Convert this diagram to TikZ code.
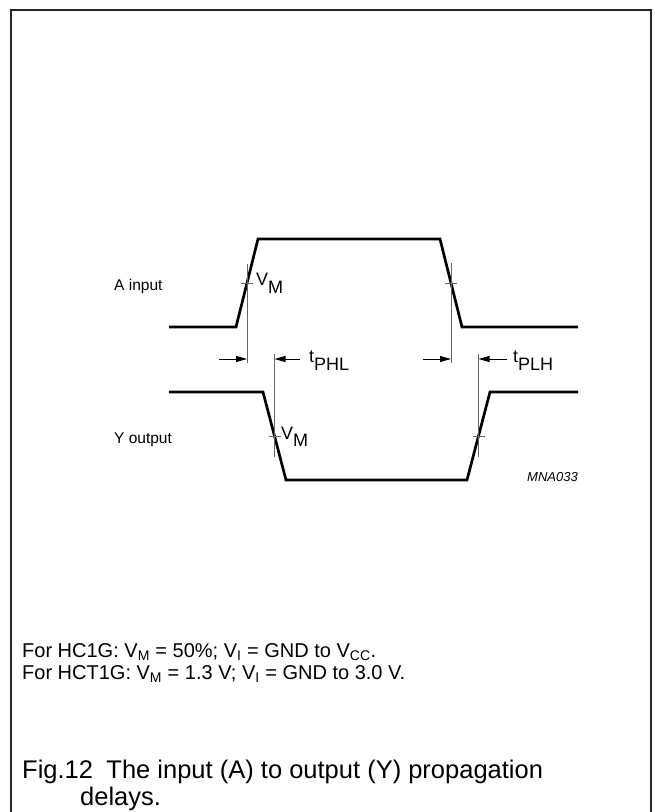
\documentclass[tikz,border=0pt]{standalone}
\usepackage{fontspec}
\setmainfont{Liberation Sans}
\usetikzlibrary{arrows.meta}

% lowered subscript of almost full size, as in the waveform labels
\newcommand{\lowsub}[2]{#1\raisebox{-0.42em}{#2}}

\begin{document}
\begin{tikzpicture}[x=1pt,y=-1pt,
        signal/.style={line width=2.7pt,line join=miter},
        marker/.style={line width=0.7pt,black!60},
        delay/.style={line width=0.9pt,-{Triangle[length=11pt,width=6pt]}},
        lbl/.style={inner sep=0pt,font=\fontsize{15.5}{19}\selectfont},
        sub/.style={inner sep=0pt,font=\fontsize{18}{20}\selectfont},
        note/.style={inner sep=0pt,font=\fontsize{20}{24}\selectfont},
        capt/.style={inner sep=0pt,font=\fontsize{25.5}{27}\selectfont}]
        \useasboundingbox (0,0) rectangle (655,812);
        \draw[line width=1.3pt,black!85] (11,813) -- (11,10) -- (651,10) -- (651,813);

        % input and output waveforms
        \draw[signal] (169,327) -- (236,327) -- (258,239) -- (440,239) -- (462,327) -- (578,327);
        \draw[signal] (169,392) -- (263,392) -- (286,480) -- (467,480) -- (490,392) -- (578,392);

        % 50% points
        \coordinate (arise) at (247,283);
        \coordinate (afall) at (451,283);
        \coordinate (yfall) at (274.5,436);
        \coordinate (yrise) at (478.5,436);

        \draw[marker] (247,264) -- (247,363);
        \draw[marker] (451,263) -- (451,363);
        \draw[marker] (274.5,354) -- (274.5,457);
        \draw[marker] (478.5,354) -- (478.5,457);
        \foreach \p in {arise,afall,yfall,yrise}
            \draw[marker] ([xshift=-6pt]\p) -- ([xshift=6pt]\p);

        % delay arrows
        \coordinate (phlin) at (219,359);
        \coordinate (phlout) at (300,359);
        \coordinate (plhin) at (423,359);
        \coordinate (plhout) at (507,359);
        \draw[delay] (phlin) -- (phlin -| arise);
        \draw[delay] (phlout) -- (phlout -| yfall);
        \draw[delay] (plhin) -- (plhin -| afall);
        \draw[delay] (plhout) -- (plhout -| yrise);

        \node[lbl,anchor=base west] (ain) at (114,290) {A input};
        \node[lbl,anchor=base west] (yout) at (114,443) {Y output};
        \node[sub,anchor=base west] (vma) at (256,285.5) {\lowsub{V}{M}};
        \node[sub,anchor=base west] (vmy) at (281,439) {\lowsub{V}{M}};
        \node[sub,anchor=base west] (tphl) at (309,362.5) {\lowsub{t}{PHL}};
        \node[sub,anchor=base west] (tplh) at (513,362.5) {\lowsub{t}{PLH}};
        \node[inner sep=0pt,anchor=base east,font=\fontsize{13}{15}\selectfont\itshape] (code) at (578,481) {MNA033};

        \node[note,anchor=base west] (hc) at (22,657)
            {For HC1G: V\textsubscript{M} = 50\%; V\textsubscript{I} = GND to V\textsubscript{CC}.};
        \node[note,anchor=base west] (hct) at (22,679)
            {For HCT1G: V\textsubscript{M} = 1.3 V; V\textsubscript{I} = GND to 3.0 V.};

        \node[capt,anchor=base west] (fig) at (22,778) {Fig.12};
        \node[capt,anchor=base west] (title) at ([xshift=13pt]fig.base east)
            {The input (A) to output (Y) propagation};
        \node[capt,anchor=base west] (title2) at (80,805) {delays.};
\end{tikzpicture}
\end{document}
